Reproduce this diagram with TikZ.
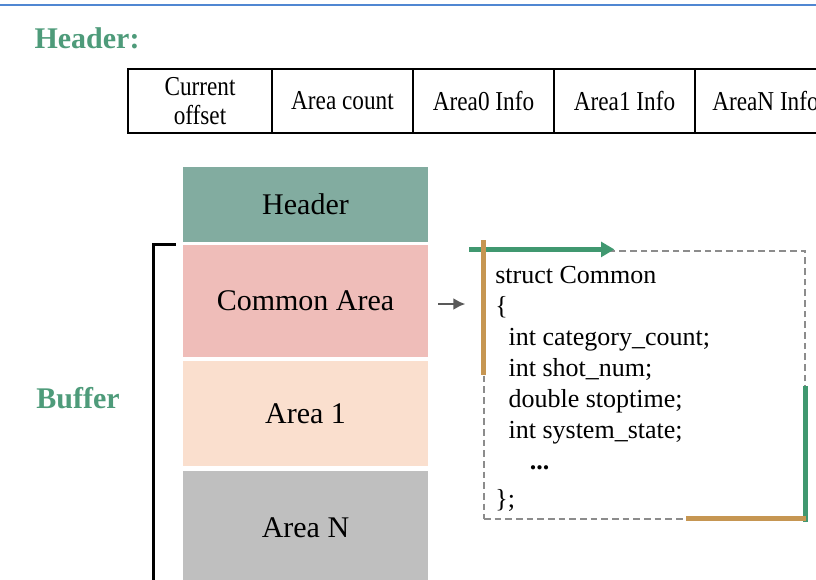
\documentclass[tikz,border=0pt]{standalone}
\usepackage{fontspec}
\setmainfont{Liberation Serif}
\newfontfamily\tabfont[FakeStretch=0.85]{Liberation Serif}
\usetikzlibrary{calc,positioning,arrows.meta}

\definecolor{labgreen}{RGB}{78,155,122}
\definecolor{arrgreen}{RGB}{64,152,112}
\definecolor{gold}{RGB}{198,150,82}
\definecolor{hdrfill}{RGB}{130,172,160}
\definecolor{comfill}{RGB}{239,189,185}
\definecolor{areafill}{RGB}{250,223,206}
\definecolor{nfill}{RGB}{191,191,191}
\definecolor{topblue}{RGB}{80,135,210}
\definecolor{dashgrey}{RGB}{140,140,140}

\begin{document}
\begin{tikzpicture}[x=0.75pt,y=-0.75pt,
  cell/.style={draw,line width=1.9pt,minimum height=48pt,minimum width=105.75pt,
    inner sep=0pt,align=center,font=\tabfont\fontsize{20.5}{21.75}\selectfont},
  block/.style={minimum width=183.75pt,inner sep=0pt,font=\fontsize{22.5}{24}\selectfont},
  title/.style={text=labgreen,font=\bfseries\fontsize{22.5}{24}\selectfont},
  edgemark/.style={line width=3.3pt},
  codebox/.style={draw=dashgrey,dash pattern=on 5pt off 3pt,line width=0.9pt,
    minimum width=240.75pt,minimum height=201pt,inner sep=0pt}
]
\useasboundingbox (0,0) rectangle (816,579);
\clip (0,0) rectangle (816,579);

\draw[topblue,line width=1.6pt] (0,5) -- (816,5);

% header layout
\node[title] (hdrlabel) at (87,38) {Header:};
\node[cell,minimum width=108pt] (c1) at (200,101) {Current\\offset};
\node[cell] (c2) at (342.5,101) {Area count};
\node[cell] (c3) at (483.5,101) {Area0 Info};
\node[cell] (c4) at (624.5,101) {Area1 Info};
\node[cell] (c5) at (765.5,101) {AreaN Info};

% buffer stack
\node[block,fill=hdrfill,minimum height=56.25pt] (hdr) at (305.5,204.5) {Header};
\node[block,fill=comfill,minimum height=84pt] (common) at (305.5,301) {Common Area};
\node[block,fill=areafill,minimum height=78.75pt] (area1) at (305.5,413.5) {Area 1};
\node[block,fill=nfill,minimum height=84.75pt] (arean) at (305.5,527.5) {Area N};

\node[title] (buflabel) at (78,398) {Buffer};
\coordinate (brtop) at ($(common.north west)+(-7,0)$);
\draw[line width=1.9pt] (brtop) -- ++(-22,0) -- ++(0,350);

% struct box
\node[codebox] (cbox) at (644.5,385) {};
\draw[-{Latex[length=9pt,width=9pt]},line width=1.8pt,black!65]
  ($(common.east)+(10,3)$) -- ($(cbox.west|-common.east)+(-18,3)$);
\node[anchor=north west,inner sep=0pt,align=left,font=\fontsize{19.5}{23.25}\selectfont]
  (code) at (495,266) {struct Common\\
  \{\\
  \hspace{10pt}int category\_count;\\
  \hspace{10pt}int shot\_num;\\
  \hspace{10pt}double stoptime;\\
  \hspace{10pt}int system\_state;\\
  \hspace{26pt}\textbf{...}\\[5pt]
  \};};

\draw[edgemark,arrgreen,-{Triangle[length=10pt,width=11pt]}]
  ($(cbox.north west)+(-14,-1)$) -- ($(cbox.north west)+(131,-1)$);
\draw[edgemark,gold] ($(cbox.north west)+(0,-10)$) -- ($(cbox.north west)+(0,125)$);
\draw[edgemark,arrgreen] ($(cbox.south east)+(0,2)$) -- ($(cbox.south east)+(0,-134)$);
\draw[edgemark,gold] ($(cbox.south east)+(0,-1)$) -- ($(cbox.south east)+(-120,-1)$);
\end{tikzpicture}
\end{document}
